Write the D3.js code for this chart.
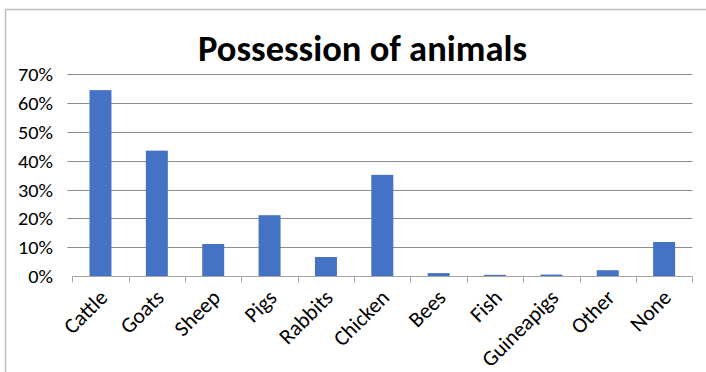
<!DOCTYPE html>
<html>
<head>
<meta charset="utf-8">
<script src="https://cdn.jsdelivr.net/npm/d3@7"></script>
<style>
  html, body { margin: 0; padding: 0; background: #fff; }
  svg { display: block; }
</style>
</head>
<body>
<svg id="chart" width="706" height="372"></svg>
<script>
// Share of households keeping each kind of animal
const categories = ["Cattle", "Goats", "Sheep", "Pigs", "Rabbits", "Chicken", "Bees", "Fish", "Guineapigs", "Other", "None"];
const shares = [0.645, 0.435, 0.111, 0.211, 0.066, 0.351, 0.010, 0.004, 0.005, 0.020, 0.118];
const yTicks = [0, 0.1, 0.2, 0.3, 0.4, 0.5, 0.6, 0.7];
const titleText = "Possession of animals";

const svg = d3.select("#chart");
const plot = { left: 72.3, right: 692.3, top: 74.3, bottom: 276 };
const font = "Carlito, Calibri, 'Open Sans', sans-serif";

// outer frame
svg.append("rect")
  .attr("x", 5.5).attr("y", 9.5)
  .attr("width", 720).attr("height", 420)
  .attr("fill", "#fff")
  .attr("stroke", "#bdbdbd").attr("stroke-width", 1.5);

const x = d3.scaleBand().domain(categories).range([plot.left, plot.right]).paddingInner(0.61).paddingOuter(0.305);
const y = d3.scaleLinear().domain([0, 0.7]).range([plot.bottom, plot.top]);

// horizontal gridlines
svg.append("g")
  .selectAll("line")
  .data(yTicks.filter(t => t > 0))
  .join("line")
  .attr("x1", plot.left - 5).attr("x2", plot.right)
  .attr("y1", d => Math.round(y(d)) + 0.5).attr("y2", d => Math.round(y(d)) + 0.5)
  .attr("stroke", "#8c8c8c").attr("stroke-width", 1);

// y-axis labels; glyphs are widened so "70%" spans about 35px
const yLab = svg.append("g")
  .selectAll("text")
  .data(yTicks)
  .join("text")
  .attr("dy", "0.35em")
  .attr("text-anchor", "end")
  .attr("font-family", font).attr("font-size", 17.5)
  .attr("fill", "#000")
  .text(d => d3.format(".0%")(d));
const widest = d3.max(yLab.nodes(), n => n.getComputedTextLength());
const yStretch = 35 / widest;
yLab.attr("transform", d => `translate(53,${y(d) + 1}) scale(${yStretch},1)`);

// bars
svg.append("g")
  .selectAll("rect")
  .data(categories.map((c, i) => ({ c, v: shares[i] })))
  .join("rect")
  .attr("x", d => x(d.c))
  .attr("y", d => y(d.v))
  .attr("width", x.bandwidth())
  .attr("height", d => y(0) - y(d.v))
  .attr("fill", "#4472c4");

// category axis line and ticks at band boundaries
const xAxisY = Math.round(y(0)) + 0.5;
svg.append("line")
  .attr("x1", plot.left).attr("x2", plot.right)
  .attr("y1", xAxisY).attr("y2", xAxisY)
  .attr("stroke", "#a6a6a6").attr("stroke-width", 1);

const step = x.step();
const boundaries = d3.range(categories.length + 1).map(i => plot.left + i * step);
svg.append("g")
  .selectAll("line")
  .data(boundaries)
  .join("line")
  .attr("x1", d => Math.round(d) + 0.5).attr("x2", d => Math.round(d) + 0.5)
  .attr("y1", xAxisY).attr("y2", xAxisY + 6)
  .attr("stroke", "#a6a6a6").attr("stroke-width", 1);

// rotated category labels; size chosen so "Guineapigs" runs about 98px
const xLab = svg.append("g")
  .selectAll("text")
  .data(categories)
  .join("text")
  .attr("text-anchor", "end")
  .attr("dy", "0.35em")
  .attr("font-family", font).attr("font-size", 20)
  .attr("fill", "#000")
  .text(d => d);
const gLen = xLab.filter(d => d === "Guineapigs").node().getComputedTextLength();
xLab.attr("font-size", 20 * 98 / gLen)
  .attr("transform", d => `translate(${x(d) + x.bandwidth() / 2 + 3},${xAxisY + 17}) rotate(-45)`);

// title
svg.append("text")
  .attr("x", 362.5).attr("y", 61)
  .attr("text-anchor", "middle")
  .attr("font-family", font).attr("font-size", 36).attr("font-weight", "bold")
  .attr("textLength", 329).attr("lengthAdjust", "spacingAndGlyphs")
  .attr("fill", "#000")
  .text(titleText);
</script>
</body>
</html>
